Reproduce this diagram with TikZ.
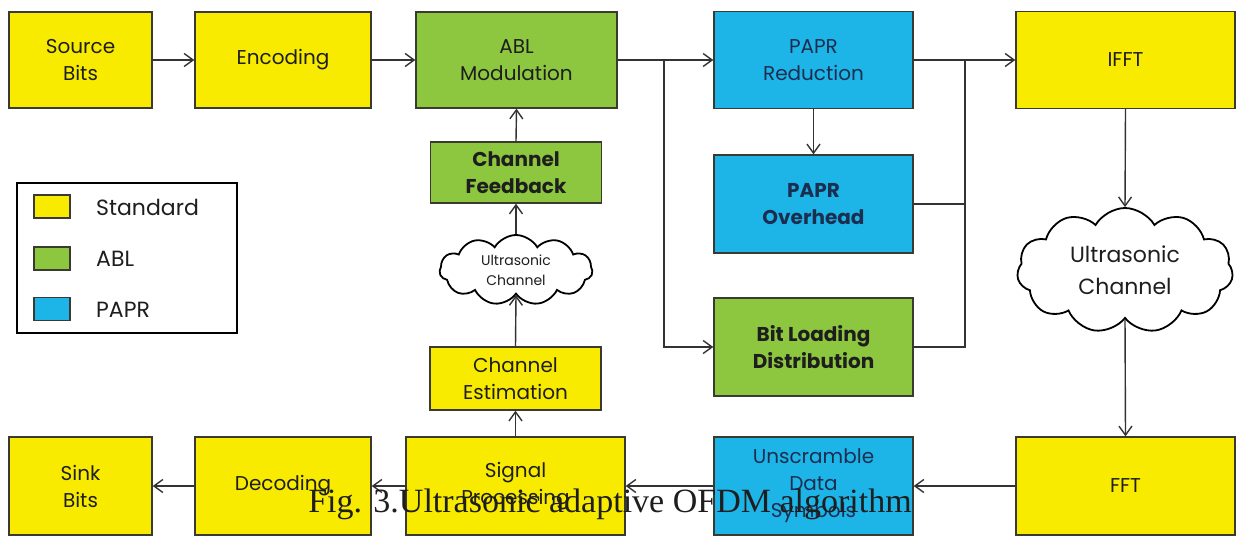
\documentclass[tikz,border=0pt]{standalone}
\usepackage{fontspec}
\setmainfont{Poppins}
\newfontfamily\capfont{Liberation Serif}
\usetikzlibrary{arrows.meta,shapes.symbols}
\definecolor{stdyel}{HTML}{F8EB00}
\definecolor{ablgreen}{HTML}{8DC63F}
\definecolor{paprblue}{HTML}{1DB5E8}
\definecolor{edgec}{HTML}{3A3A30}
\definecolor{ink}{HTML}{1E1E1E}
\definecolor{navy}{HTML}{1C2E50}
\definecolor{conncol}{HTML}{333333}
\begin{document}
\begin{tikzpicture}[x=1pt,y=-1pt,
  blk/.style={draw=edgec, line width=1.4pt, inner sep=0pt, align=center,
    font=\fontsize{20}{27}\selectfont, text=ink},
  stdb/.style={blk, fill=stdyel},
  ablb/.style={blk, fill=ablgreen},
  paprb/.style={blk, fill=paprblue, text=navy},
  boldtxt/.style={font=\fontsize{20}{27}\selectfont\bfseries},
  cloudn/.style={cloud, cloud puffs=11, cloud puff arc=120, cloud ignores aspect,
    draw=black, line width=1.8pt, fill=white, inner sep=0pt},
  cloudtxt/.style={align=center, inner sep=0pt, text=ink},
  conn/.style={draw=conncol, line width=1.4pt},
  arr/.style={conn, -{Straight Barb[length=9pt,width=13pt,line width=1.4pt]}},
  legbox/.style={draw=edgec, line width=1.2pt, minimum width=36pt, minimum height=23pt, inner sep=0pt},
  legtxt/.style={anchor=west, font=\fontsize{22}{22}\selectfont, text=ink, inner sep=0pt}
]
\useasboundingbox (0,0) rectangle (1237,536);
\fill[white] (0,0) rectangle (1237,536);

% top row
\node[stdb, minimum width=143pt, minimum height=96pt] (src) at (80.5,60) {Source\\Bits};
\node[stdb, minimum width=176pt, minimum height=96pt] (enc) at (283,60) {Encoding};
\node[ablb, minimum width=201pt, minimum height=96pt] (abl) at (516.5,60) {ABL\\Modulation};
\node[paprb, minimum width=199pt, minimum height=97pt] (papr) at (813.5,60) {PAPR\\Reduction};
\node[stdb, minimum width=219pt, minimum height=97pt] (ifft) at (1125.5,60) {IFFT};

% middle
\node[ablb, boldtxt, minimum width=171pt, minimum height=61pt] (cfb) at (516,172.5) {Channel\\Feedback};
\node[cloudn, minimum width=153pt, minimum height=70pt] (cl1) at (516,270) {};
\node[cloudtxt, font=\fontsize{14}{20}\selectfont] (cl1t) at (cl1.center) {Ultrasonic\\Channel};
\node[stdb, minimum width=171pt, minimum height=63pt] (cest) at (515.5,378.5) {Channel\\Estimation};
\node[paprb, boldtxt, minimum width=199pt, minimum height=98pt] (ovh) at (813.5,204) {PAPR\\Overhead};
\node[ablb, boldtxt, minimum width=199pt, minimum height=98pt] (bld) at (813.5,347) {Bit Loading\\Distribution};
\node[cloudn, minimum width=216pt, minimum height=125pt] (cl2) at (1125,270.5) {};
\node[cloudtxt, font=\fontsize{22}{32}\selectfont] (cl2t) at (cl2.center) {Ultrasonic\\Channel};

% bottom row
\node[stdb, minimum width=143pt, minimum height=98pt] (sink) at (80.5,486) {Sink\\Bits};
\node[stdb, minimum width=176pt, minimum height=98pt] (dec) at (283,486) {Decoding};
\node[stdb, minimum width=219pt, minimum height=98pt] (sig) at (515.5,486) {Signal\\Processing};
\node[paprb, minimum width=199pt, minimum height=98pt] (uns) at (813.5,486) {Unscramble\\Data\\Symbols};
\node[stdb, minimum width=219pt, minimum height=98pt] (fft) at (1125.5,486) {FFT};

% legend
\node[draw=black, line width=2pt, minimum width=220pt, minimum height=150pt, inner sep=0pt] (leg) at (127,258) {};
\node[legbox, fill=stdyel] (l1) at (52,206.5) {};
\node[legbox, fill=ablgreen] (l2) at (52,258.5) {};
\node[legbox, fill=paprblue] (l3) at (52,309) {};
\node[legtxt] (t1) at (96,207) {Standard};
\node[legtxt] (t2) at (96,258.5) {ABL};
\node[legtxt] (t3) at (96,309.5) {PAPR};

% junction coordinates
\coordinate (j1) at (664,60);
\coordinate (j2) at (965,60);

% connectors
\draw[arr] (src.east) -- (enc.west);
\draw[arr] (enc.east) -- (abl.west);
\draw[arr] (abl.east) -- (papr.west);
\draw[arr] (j1) |- (bld.west);
\draw[arr] (papr.east) -- (ifft.west);
\draw[conn] (ovh.east) -| (j2);
\draw[conn] (bld.east) -| (j2);
\draw[arr] (papr.south) -- (ovh.north);
\draw[arr] (ifft.south) -- (cl2.north);
\draw[arr] (cl2.south) -- (fft.north);
\draw[arr] (fft.west) -- (uns.east);
\draw[arr] (uns.west) -- (sig.east);
\draw[arr] (sig.west) -- (dec.east);
\draw[arr] (dec.west) -- (sink.east);
\draw[arr] (sig.north) -- (cest.south);
\draw[arr] (cest.north) -- (cl1.south);
\draw[arr] (cl1.north) -- (cfb.south);
\draw[arr] (cfb.north) -- (abl.south);

% caption
\node[anchor=base, inner sep=0pt, text=ink, font=\capfont\fontsize{34}{34}\selectfont] (cap) at (610,512) {Fig. 3.Ultrasonic adaptive OFDM algorithm};
\end{tikzpicture}
\end{document}
